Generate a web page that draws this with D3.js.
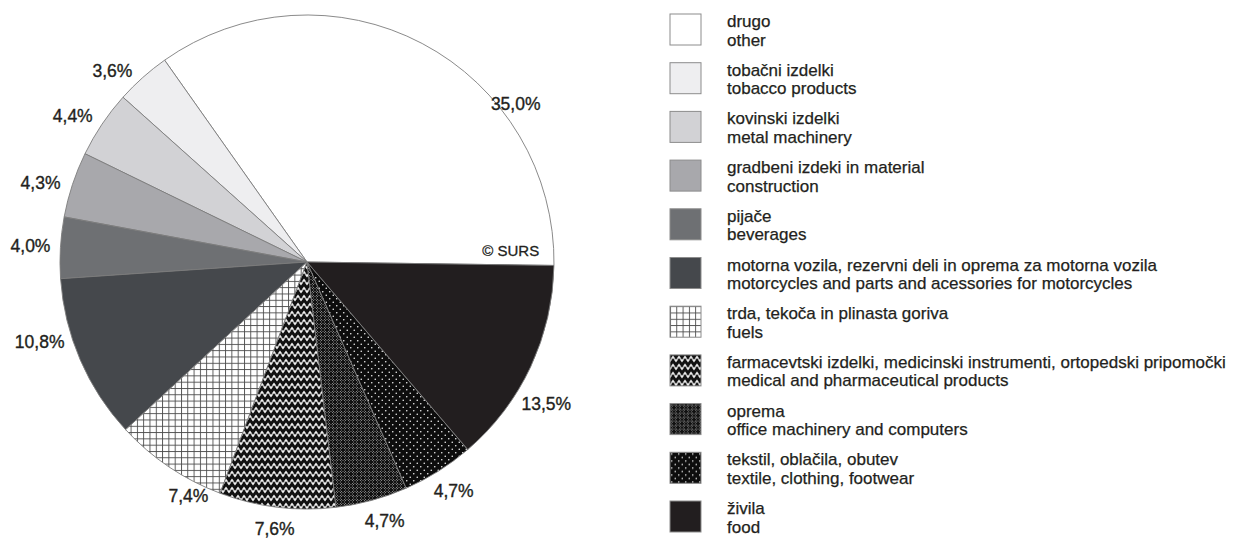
<!DOCTYPE html>
<html><head><meta charset="utf-8">
<script src="https://cdn.jsdelivr.net/npm/d3@7"></script>
<style>body{margin:0;background:#fff}svg{display:block}</style>
</head><body>
<svg id="chart" width="1258" height="540"></svg>
<script>
// ---- data ----
const categoriesSl = ["drugo","tobačni izdelki","kovinski izdelki","gradbeni izdeki in material","pijače","motorna vozila, rezervni deli in oprema za motorna vozila","trda, tekoča in plinasta goriva","farmacevtski izdelki, medicinski instrumenti, ortopedski pripomočki","oprema","tekstil, oblačila, obutev","živila"];
const categoriesEn = ["other","tobacco products","metal machinery","construction","beverages","motorcycles and parts and acessories for  motorcycles","fuels","medical and pharmaceutical products","office machinery and computers","textile, clothing, footwear","food"];
const values = [35.0,3.6,4.4,4.3,4.0,10.8,7.4,7.6,4.7,4.7,13.5];
const percentLabels = values.map(v => d3.format(".1f")(v).replace(".", ",") + "%");

// ---- layout / style ----
const fills = ["#ffffff","#eeeef0","#d2d2d5","#a8a8ac","#6e7073","#45484c","url(#pFuel)","url(#pPharma)","url(#pOffice)","url(#pTextile)","#221e1f"];
const labelShiftDeg = [-25, 3.8, 2, 1.7, 0, -6.7, 7, 0, 1.5, 0.5, -5.5];
const labelRadius = [262, 273, 276, 278, 277, 279, 262, 269, 270, 272, 278];
const font = "Liberation Sans, Arial, Helvetica, sans-serif";
const ink = "#231f20";

const svg = d3.select("#chart");
const defs = svg.append("defs");

function pat(id, w, h, bg) {
  const p = defs.append("pattern").attr("id", id).attr("patternUnits", "userSpaceOnUse")
    .attr("width", w).attr("height", h);
  p.append("rect").attr("width", w).attr("height", h).attr("fill", bg);
  return p;
}
pat("pFuel", 6.3, 6.3, "#fff").append("path")
  .attr("d", "M0,0.5H6.3M0.5,0V6.3").attr("stroke", "#4a4a4a").attr("stroke-width", 0.9).attr("fill", "none");
const ph = pat("pPharma", 6, 8, "#111");
ph.append("path").attr("d", "M0.6,3.7L3,0.4L5.4,3.7Z M-2.4,4.3L0,7.6L2.4,4.3Z M3.6,4.3L6,7.6L8.4,4.3Z").attr("fill", "#f0f0f0");
pat("pOffice", 8, 8, "#121212").append("path")
  .attr("d", "M0.5,2.5L2.5,0.5M1.5,3.5L3.5,1.5M4.5,6.5L6.5,4.5M5.5,7.5L7.5,5.5M5.5,0.5L7.5,2.5M4.5,1.5L6.5,3.5M1.5,4.5L3.5,6.5M0.5,5.5L2.5,7.5")
  .attr("stroke", "#a0a0a0").attr("stroke-width", 0.8).attr("fill", "none");
const tx = pat("pTextile", 7, 7, "#0d0d0d");
tx.append("circle").attr("cx", 1.75).attr("cy", 1.75).attr("r", 0.8).attr("fill", "#eee");
tx.append("circle").attr("cx", 5.25).attr("cy", 5.25).attr("r", 0.8).attr("fill", "#eee");

// ---- pie ----
const cx = 307, cy = 262, r = 247;
const start = Math.PI / 2 + 0.8 * Math.PI / 180;
const pie = d3.pie().sort(null).value(d => d).startAngle(start).endAngle(start - 2 * Math.PI);
const arcs = pie(values);
const arc = d3.arc().innerRadius(0).outerRadius(r);
const g = svg.append("g").attr("transform", `translate(${cx},${cy})`);
g.selectAll("path.slice").data(arcs).join("path").attr("class", "slice")
  .attr("d", arc).attr("fill", (d, i) => fills[i])
  .attr("stroke", "#7d7d7d").attr("stroke-width", 0.9).attr("stroke-linejoin", "round");

const midA = (d, i) => (d.startAngle + d.endAngle) / 2 - labelShiftDeg[i] * Math.PI / 180;
g.selectAll("text.pct").data(arcs).join("text").attr("class", "pct")
  .attr("x", (d, i) => labelRadius[i] * Math.sin(midA(d, i)))
  .attr("y", (d, i) => -labelRadius[i] * Math.cos(midA(d, i)))
  .attr("dy", "0.36em").attr("text-anchor", "middle")
  .attr("font-family", font).attr("font-size", 17.5).attr("fill", ink)
  .attr("stroke", ink).attr("stroke-width", 0.35)
  .text((d, i) => percentLabels[i]);

g.append("text").attr("x", r * 0.94).attr("y", -6).attr("text-anchor", "end")
  .attr("font-family", font).attr("font-size", 15).attr("fill", ink)
  .attr("stroke", ink).attr("stroke-width", 0.3)
  .text("© SURS");

// ---- legend ----
const legY = d3.scaleLinear().domain([0, 10]).range([14, 501]);
const leg = svg.append("g").selectAll("g").data(values).join("g")
  .attr("transform", (d, i) => `translate(670,${legY(i)})`);
leg.append("rect").attr("width", 31).attr("height", 31).attr("fill", (d, i) => fills[i])
  .attr("stroke", "#8c8c8c").attr("stroke-width", 1);
[categoriesSl, categoriesEn].forEach((arr, k) => {
  leg.append("text").attr("x", 57).attr("y", k ? 31.5 : 13)
    .attr("font-family", font).attr("font-size", 17).attr("fill", ink)
    .attr("stroke", ink).attr("stroke-width", 0.25)
    .text((d, i) => arr[i]);
});
</script>
</body></html>
